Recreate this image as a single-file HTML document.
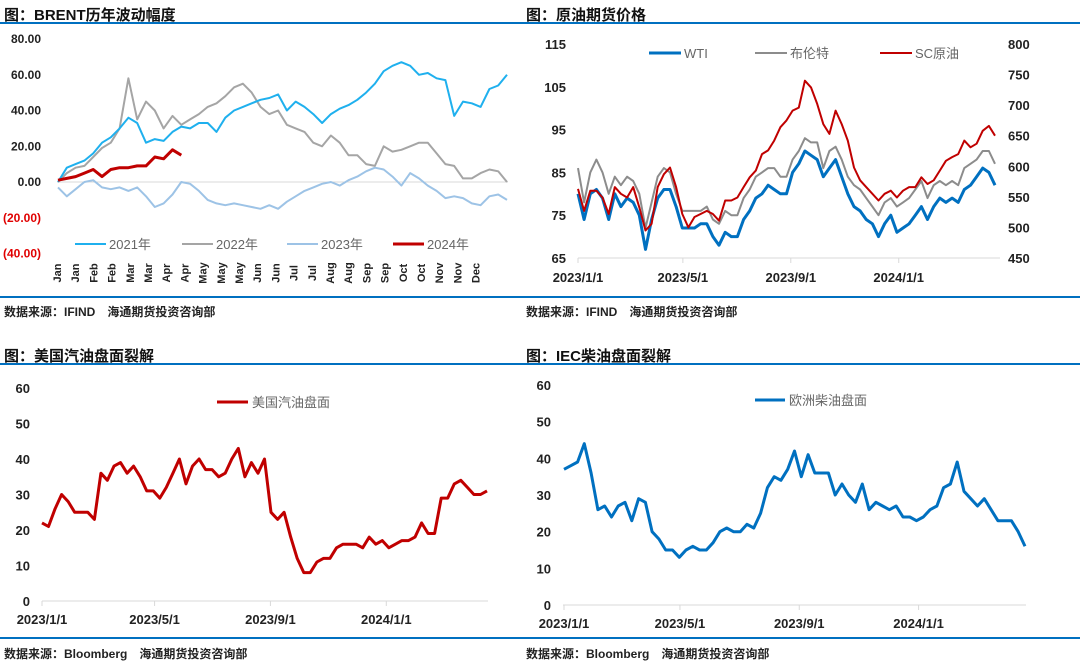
<!DOCTYPE html>
<html><head><meta charset="utf-8"><style>
html,body{margin:0;padding:0;background:#fff;}
svg{display:block;font-family:"Liberation Sans","Noto Sans CJK SC",sans-serif;}
</style></head><body>
<svg id="root" width="1080" height="663" viewBox="0 0 1080 663" xmlns="http://www.w3.org/2000/svg">
<g>
<text x="4" y="20" font-size="15" font-weight="bold" fill="#111">图：BRENT历年波动幅度</text>
<text x="526" y="20" font-size="15" font-weight="bold" fill="#111">图：原油期货价格</text>
<rect x="0" y="22" width="1080" height="2" fill="#0070c0"/>
<rect x="0" y="296" width="1080" height="2" fill="#0070c0"/>
<text x="4" y="316" font-size="12" font-weight="bold" fill="#222">数据来源：IFIND　海通期货投资咨询部</text>
<text x="526" y="316" font-size="12" font-weight="bold" fill="#222">数据来源：IFIND　海通期货投资咨询部</text>
<text x="4" y="361" font-size="15" font-weight="bold" fill="#111">图：美国汽油盘面裂解</text>
<text x="526" y="361" font-size="15" font-weight="bold" fill="#111">图：IEC柴油盘面裂解</text>
<rect x="0" y="363" width="1080" height="2" fill="#0070c0"/>
<rect x="0" y="637" width="1080" height="2" fill="#0070c0"/>
<text x="4" y="658" font-size="12" font-weight="bold" fill="#222">数据来源：Bloomberg　海通期货投资咨询部</text>
<text x="526" y="658" font-size="12" font-weight="bold" fill="#222">数据来源：Bloomberg　海通期货投资咨询部</text>
</g>
</svg>
<script>
// ---- Panel 1 data: BRENT yearly change ----
const p1Ticks = [80, 60, 40, 20, 0, -20, -40];
const p1TickLabels = ["80.00","60.00","40.00","20.00","0.00","(20.00)","(40.00)"];
const p1Months = ["Jan","Jan","Feb","Feb","Mar","Mar","Apr","Apr","May","May","May","Jun","Jun","Jul","Jul","Aug","Aug","Sep","Sep","Oct","Oct","Nov","Nov","Dec"];
const s2021 = [0,8,10,12,16,22,25,30,36,33,22,24,23,28,31,30,33,33,28,36,40,42,44,46,47,49,40,45,42,38,33,38,41,43,46,50,55,62,65,67,65,60,61,58,57,37,45,44,42,52,54,60];
const s2022 = [0,5,8,9,14,19,22,30,58,35,45,40,30,37,32,35,38,42,44,48,53,55,50,42,38,40,32,30,28,22,20,26,22,15,15,10,9,20,17,18,20,22,22,16,10,9,2,2,5,7,6,0];
const s2023 = [-3,-8,-4,0,1,-3,-4,-3,-5,-3,-8,-14,-12,-7,0,-1,-5,-10,-12,-13,-12,-13,-14,-15,-13,-15,-11,-8,-5,-3,-1,0,-2,1,3,6,8,7,3,-2,5,2,-2,-5,-9,-8,-9,-12,-13,-8,-7,-10];
const s2024 = [1,2,3,5,7,3,7,8,8,9,9,14,13,18,15];
// ---- Panel 2 data: crude futures ----
const p2LeftTicks = [115,105,95,85,75,65];
const p2RightTicks = [800,750,700,650,600,550,500,450];
const p2DateLabels = ["2023/1/1","2023/5/1","2023/9/1","2024/1/1"];
const p2DateWeeks = [0, 17.1, 34.7, 52.3];
const wti = [80,74,80,81,79,74,80,77,79,78,75,67,74,79,81,81,77,72,72,72,73,73,70,68,71,70,70,74,76,79,80,82,81,80,80,85,87,90,89,88,84,86,88,84,80,77,76,74,73,70,73,75,71,72,73,75,77,74,77,79,78,79,78,81,82,84,86,85,82];
const brent = [86,78,85,88,85,80,84,82,84,83,80,72,78,84,86,85,80,76,76,76,76,77,74,73,76,75,75,79,81,84,85,86,86,84,84,88,90,93,92,92,86,90,91,88,84,82,81,79,77,75,78,79,77,78,79,81,83,79,82,83,82,83,82,86,87,88,90,90,87];
const sc = [563,527,560,560,549,522,566,555,549,566,533,495,506,566,587,598,566,522,500,517,522,527,522,511,544,544,549,566,582,593,620,626,642,664,675,691,696,740,729,702,669,653,691,669,642,598,577,566,555,544,555,560,549,560,566,566,582,571,577,593,609,615,620,642,631,637,658,666,650];
// ---- Panel 3 data: US gasoline crack ----
const p3Ticks = [60,50,40,30,20,10,0];
const p3DateLabels = ["2023/1/1","2023/5/1","2023/9/1","2024/1/1"];
const p3DateWeeks = [0, 17.1, 34.7, 52.3];
const gasoline = [22,21,26,30,28,25,25,25,23,36,34,38,39,36,38,35,31,31,29,32,36,40,33,38,40,37,37,35,36,40,43,35,39,36,40,25,23,25,18,12,8,8,11,12,12,15,16,16,16,15,18,16,17,15,16,17,17,18,22,19,19,29,29,33,34,32,30,30,31];
// ---- Panel 4 data: EU diesel crack ----
const p4Ticks = [60,50,40,30,20,10,0];
const p4DateLabels = ["2023/1/1","2023/5/1","2023/9/1","2024/1/1"];
const p4DateWeeks = [0, 17.1, 34.7, 52.3];
const diesel = [37,38,39,44,36,26,27,24,27,28,23,29,28,20,18,15,15,13,15,16,15,15,17,20,21,20,20,22,21,25,32,35,34,37,42,35,41,36,36,36,30,33,30,28,33,26,28,27,26,27,24,24,23,24,26,27,32,33,39,31,29,27,29,26,23,23,23,20,16];

const NS = "http://www.w3.org/2000/svg";
const root = document.getElementById("root");
function el(tag, attrs, name){
  const e = document.createElementNS(NS, tag);
  for (const k in attrs) e.setAttribute(k, attrs[k]);
  
  
  root.appendChild(e);
  return e;
}
function txt(x, y, s, size, anchor, fill, bold, name){
  const t = el("text", {x:x, y:y, "font-size":size, "text-anchor":anchor, fill:fill, "font-weight":bold?"bold":"normal"}, name);
  t.textContent = s;
  return t;
}
function series(vals, xf, yf, color, w, name){
  const d = vals.map((v,i)=>(i?"L":"M")+xf(i).toFixed(1)+","+yf(v).toFixed(1)).join(" ");
  return el("path", {d:d, fill:"none", stroke:color, "stroke-width":w, "stroke-linejoin":"round"}, name);
}

// ===== Panel 1 =====
const x1 = i => 58 + i * 449 / 51;
const y1 = v => 182 - v * 143 / 80;
p1Ticks.forEach((v,k)=>{
  txt(41, y1(v)+4, p1TickLabels[k], 12, "end", v<0?"#e00000":"#222", true, "y-tick-brent");
});
el("line", {x1:57, x2:508, y1:y1(0), y2:y1(0), stroke:"#d9d9d9", "stroke-width":1}, "zero-line-brent");
p1Months.forEach((m,k)=>{
  const cx = 57 + k * 18.2, cy = 273;
  const t = txt(cx, cy+4, m, 11, "middle", "#222", true, "x-tick-month");
  t.setAttribute("transform", "rotate(-90 "+cx+" "+cy+")");
});
series(s2023, x1, y1, "#9dc3e6", 2, "line-2023");
series(s2022, x1, y1, "#a5a5a5", 2, "line-2022");
series(s2021, x1, y1, "#1fb0ee", 2, "line-2021");
series(s2024, x1, y1, "#c00000", 3, "line-2024");
const leg1 = [["2021年","#1fb0ee",75],["2022年","#a5a5a5",182],["2023年","#9dc3e6",287],["2024年","#c00000",393]];
leg1.forEach(l=>{
  el("line",{x1:l[2],x2:l[2]+31,y1:244,y2:244,stroke:l[1],"stroke-width":l[0]==="2024年"?3:2},"legend-swatch-brent");
  txt(l[2]+34, 249, l[0], 13, "start", "#666", false, "legend-label-brent");
});

// ===== Panel 2 =====
const x2 = i => 578 + i * 417 / 68;
const y2L = v => 258 - (v - 65) * 214 / 50;
const y2R = v => 258 - (v - 450) * 214 / 350;
p2LeftTicks.forEach(v=>txt(566, y2L(v)+5, String(v), 13, "end", "#222", true, "y-left-tick-crude"));
p2RightTicks.forEach(v=>txt(1008, y2R(v)+5, String(v), 13, "start", "#222", true, "y-right-tick-crude"));
el("line",{x1:578,x2:1000,y1:258,y2:258,stroke:"#d9d9d9","stroke-width":1},"x-axis-crude");
p2DateLabels.forEach((s,k)=>{
  const xx = x2(p2DateWeeks[k]);
  el("line",{x1:xx,x2:xx,y1:258,y2:263,stroke:"#d9d9d9","stroke-width":1},"x-tick-mark-crude");
  txt(xx, 282, s, 13, "middle", "#222", true, "x-tick-crude");
});
series(wti, x2, y2L, "#0070c0", 3, "line-wti");
series(brent, x2, y2L, "#8c8c8c", 2, "line-brent");
series(sc, x2, y2R, "#c00000", 2, "line-sc");
const leg2 = [["WTI","#0070c0",649,3],["布伦特","#8c8c8c",755,2],["SC原油","#c00000",880,2]];
leg2.forEach(l=>{
  el("line",{x1:l[2],x2:l[2]+32,y1:53,y2:53,stroke:l[1],"stroke-width":l[3]},"legend-swatch-crude");
  txt(l[2]+35, 58, l[0], 13, "start", "#666", false, "legend-label-crude");
});

// ===== Panel 3 =====
const x3 = i => 42 + i * 445 / 68;
const y3 = v => 601 - v * 213 / 60;
p3Ticks.forEach(v=>txt(30, y3(v)+5, String(v), 13, "end", "#222", true, "y-tick-gasoline"));
el("line",{x1:42,x2:488,y1:601,y2:601,stroke:"#d9d9d9","stroke-width":1},"x-axis-gasoline");
p3DateLabels.forEach((s,k)=>{
  const xx = x3(p3DateWeeks[k] * 68 / 67.6);
  el("line",{x1:xx,x2:xx,y1:601,y2:606,stroke:"#d9d9d9","stroke-width":1},"x-tick-mark-gasoline");
  txt(xx, 624, s, 13, "middle", "#222", true, "x-tick-gasoline");
});
series(gasoline, x3, y3, "#c00000", 3, "line-gasoline");
el("line",{x1:217,x2:248,y1:402,y2:402,stroke:"#c00000","stroke-width":3},"legend-swatch-gasoline");
txt(252, 407, "美国汽油盘面", 13, "start", "#666", false, "legend-label-gasoline");

// ===== Panel 4 =====
const x4 = i => 564 + i * 461 / 68;
const y4 = v => 605 - v * 220 / 60;
p4Ticks.forEach(v=>txt(551, y4(v)+5, String(v), 13, "end", "#222", true, "y-tick-diesel"));
el("line",{x1:563,x2:1026,y1:605,y2:605,stroke:"#d9d9d9","stroke-width":1},"x-axis-diesel");
p4DateLabels.forEach((s,k)=>{
  const xx = x4(p4DateWeeks[k]);
  el("line",{x1:xx,x2:xx,y1:605,y2:610,stroke:"#d9d9d9","stroke-width":1},"x-tick-mark-diesel");
  txt(xx, 628, s, 13, "middle", "#222", true, "x-tick-diesel");
});
series(diesel, x4, y4, "#0070c0", 3, "line-diesel");
el("line",{x1:755,x2:785,y1:400,y2:400,stroke:"#0070c0","stroke-width":3},"legend-swatch-diesel");
txt(789, 405, "欧洲柴油盘面", 13, "start", "#666", false, "legend-label-diesel");
</script>
</body></html>
